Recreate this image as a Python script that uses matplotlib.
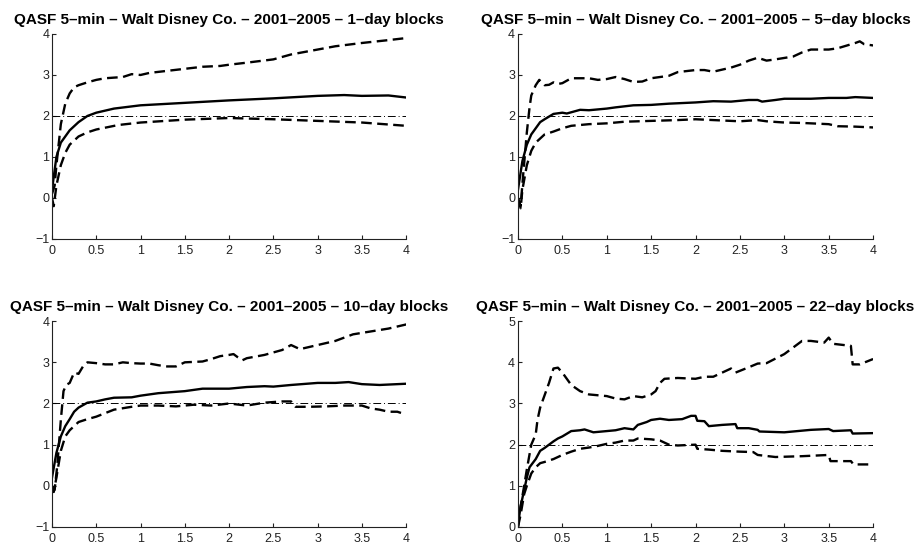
"""
QASF 5-min variance-ratio plots for Walt Disney Co., 2001-2005
"""
import matplotlib
matplotlib.use("Agg")
import matplotlib.pyplot as plt

plt.rcParams['font.family'] = ['Liberation Sans', 'DejaVu Sans']

# --- 1-day blocks
x1_mid = [0, 0.05, 0.1, 0.2, 0.3, 0.4, 0.5, 0.7, 1.0, 1.5, 2.0, 2.5, 3.0, 3.3, 3.5, 3.8, 4.0]
y1_mid = [0.2, 1.0, 1.35, 1.65, 1.85, 2.0, 2.08, 2.18, 2.26, 2.32, 2.38, 2.43, 2.49, 2.51, 2.49, 2.5, 2.45]
x1_up = [0, 0.03, 0.05, 0.1, 0.15, 0.2, 0.25, 0.3, 0.4, 0.5, 0.6, 0.8, 0.9, 1.0, 1.1, 1.3,
         1.5, 1.7, 1.9, 2.0, 2.2, 2.5, 2.7, 2.9, 3.0, 3.2, 3.5, 3.8, 4.0]
y1_up = [0.1, 0.3, 0.8, 1.8, 2.3, 2.55, 2.7, 2.75, 2.82, 2.88, 2.92, 2.95, 3.02, 3.0, 3.05, 3.1,
         3.15, 3.2, 3.22, 3.25, 3.3, 3.38, 3.5, 3.58, 3.62, 3.7, 3.78, 3.85, 3.9]
x1_lo = [0, 0.02, 0.05, 0.1, 0.15, 0.2, 0.3, 0.4, 0.5, 0.75, 1.0, 1.5, 2.0, 2.5, 3.0, 3.5, 4.0]
y1_lo = [0.0, -0.2, 0.3, 0.8, 1.1, 1.3, 1.5, 1.6, 1.67, 1.78, 1.84, 1.91, 1.95, 1.92, 1.88, 1.84, 1.76]

# --- 5-day blocks
x2_mid = [0, 0.05, 0.1, 0.15, 0.2, 0.25, 0.3, 0.4, 0.5, 0.55, 0.7, 0.8, 1.0, 1.1, 1.3, 1.5,
          1.7, 2.0, 2.2, 2.4, 2.6, 2.7, 2.75, 2.9, 3.0, 3.3, 3.5, 3.7, 3.8, 4.0]
y2_mid = [0.2, 0.9, 1.3, 1.55, 1.7, 1.85, 1.92, 2.05, 2.08, 2.06, 2.15, 2.14, 2.18, 2.21, 2.26, 2.27,
          2.3, 2.33, 2.36, 2.35, 2.39, 2.39, 2.35, 2.39, 2.42, 2.42, 2.44, 2.44, 2.46, 2.44]
x2_up = [0, 0.03, 0.06, 0.1, 0.13, 0.15, 0.2, 0.24, 0.3, 0.35, 0.4, 0.45, 0.5, 0.6, 0.7, 0.8,
         0.9, 1.0, 1.1, 1.2, 1.3, 1.4, 1.5, 1.7, 1.8, 2.0, 2.1, 2.2, 2.4, 2.5, 2.6, 2.7, 2.8,
         2.9, 3.1, 3.2, 3.3, 3.5, 3.6, 3.8, 3.85, 3.9, 4.0]
y2_up = [0.0, -0.2, 0.6, 1.6, 2.2, 2.5, 2.75, 2.88, 2.75, 2.76, 2.82, 2.78, 2.8, 2.92, 2.92, 2.92,
         2.88, 2.9, 2.95, 2.9, 2.83, 2.84, 2.92, 2.98, 3.07, 3.12, 3.12, 3.08, 3.18, 3.25, 3.35, 3.42, 3.35,
         3.38, 3.45, 3.55, 3.62, 3.62, 3.65, 3.78, 3.82, 3.75, 3.72]
x2_lo = [0, 0.03, 0.05, 0.1, 0.15, 0.2, 0.3, 0.4, 0.5, 0.6, 0.8, 1.0, 1.2, 1.5, 1.8, 2.0,
         2.2, 2.4, 2.5, 2.7, 2.8, 3.0, 3.2, 3.5, 3.6, 3.8, 4.0]
y2_lo = [0.0, -0.25, 0.2, 0.8, 1.15, 1.35, 1.55, 1.62, 1.7, 1.76, 1.8, 1.82, 1.86, 1.88, 1.9, 1.92,
         1.9, 1.88, 1.87, 1.9, 1.87, 1.84, 1.83, 1.8, 1.75, 1.74, 1.72]

# --- 10-day blocks
x3_mid = [0, 0.05, 0.1, 0.15, 0.2, 0.25, 0.3, 0.4, 0.5, 0.6, 0.7, 0.9, 1.0, 1.2, 1.5, 1.7,
          2.0, 2.2, 2.4, 2.5, 2.7, 3.0, 3.2, 3.35, 3.5, 3.7, 3.9, 4.0]
y3_mid = [0.2, 0.8, 1.2, 1.45, 1.62, 1.8, 1.9, 2.02, 2.05, 2.1, 2.14, 2.15, 2.19, 2.25, 2.3, 2.36,
          2.36, 2.4, 2.42, 2.41, 2.45, 2.5, 2.5, 2.52, 2.47, 2.45, 2.47, 2.48]
x3_up = [0, 0.03, 0.06, 0.1, 0.13, 0.16, 0.2, 0.25, 0.3, 0.35, 0.4, 0.5, 0.6, 0.7, 0.8, 0.9,
         1.0, 1.1, 1.2, 1.3, 1.4, 1.5, 1.7, 1.8, 1.9, 2.0, 2.05, 2.1, 2.15, 2.2, 2.4, 2.6, 2.7,
         2.8, 3.0, 3.2, 3.4, 3.6, 3.8, 4.0]
y3_up = [0.0, -0.1, 0.5, 1.6, 2.3, 2.45, 2.5, 2.75, 2.72, 2.9, 3.0, 2.98, 2.95, 2.95, 3.0, 2.98,
         2.97, 2.97, 2.93, 2.9, 2.9, 3.0, 3.02, 3.08, 3.15, 3.18, 3.2, 3.12, 3.05, 3.1, 3.18, 3.3, 3.42,
         3.32, 3.42, 3.52, 3.68, 3.75, 3.82, 3.92]
x3_lo = [0, 0.02, 0.05, 0.1, 0.15, 0.2, 0.3, 0.4, 0.5, 0.7, 0.9, 1.0, 1.2, 1.4, 1.6, 1.8,
         2.0, 2.2, 2.4, 2.6, 2.7, 2.75, 2.9, 3.1, 3.3, 3.5, 3.6, 3.7, 3.8, 3.9, 4.0]
y3_lo = [0.0, -0.15, 0.2, 0.85, 1.2, 1.35, 1.55, 1.62, 1.68, 1.85, 1.92, 1.95, 1.95, 1.93, 1.97, 1.95,
         2.0, 1.95, 2.02, 2.05, 2.05, 1.92, 1.92, 1.93, 1.95, 1.95, 1.88, 1.85, 1.8, 1.8, 1.73]

# --- 22-day blocks
x4_mid = [0, 0.03, 0.06, 0.1, 0.13, 0.2, 0.25, 0.3, 0.35, 0.4, 0.45, 0.5, 0.6, 0.7, 0.75, 0.85,
          1.0, 1.1, 1.2, 1.3, 1.35, 1.45, 1.5, 1.6, 1.7, 1.85, 1.95, 2.0, 2.02, 2.1, 2.15, 2.3,
          2.45, 2.47, 2.6, 2.7, 2.72, 3.0, 3.1, 3.3, 3.5, 3.55, 3.75, 3.77, 4.0]
y4_mid = [0.05, 0.5, 0.8, 1.2, 1.45, 1.65, 1.85, 1.92, 2.0, 2.08, 2.15, 2.2, 2.33, 2.35, 2.37, 2.3,
          2.33, 2.35, 2.4, 2.37, 2.48, 2.55, 2.6, 2.63, 2.6, 2.62, 2.7, 2.7, 2.58, 2.57, 2.45, 2.48,
          2.5, 2.4, 2.4, 2.36, 2.32, 2.3, 2.32, 2.36, 2.38, 2.33, 2.35, 2.27, 2.28]
x4_up = [0, 0.03, 0.07, 0.1, 0.15, 0.2, 0.22, 0.25, 0.3, 0.35, 0.4, 0.45, 0.5, 0.6, 0.7, 0.8,
         0.9, 1.0, 1.1, 1.2, 1.3, 1.4, 1.5, 1.55, 1.6, 1.65, 1.8, 2.0, 2.1, 2.2, 2.3, 2.4, 2.45,
         2.6, 2.7, 2.8, 3.0, 3.2, 3.3, 3.45, 3.5, 3.55, 3.75, 3.77, 3.85, 4.0]
y4_up = [0.0, 0.5, 1.0, 1.4, 2.0, 2.25, 2.6, 2.9, 3.2, 3.5, 3.85, 3.87, 3.75, 3.45, 3.3, 3.22,
         3.2, 3.18, 3.12, 3.1, 3.18, 3.15, 3.22, 3.3, 3.5, 3.6, 3.62, 3.6, 3.65, 3.65, 3.75, 3.85, 3.75,
         3.88, 3.97, 3.98, 4.2, 4.52, 4.52, 4.48, 4.6, 4.45, 4.4, 3.95, 3.95, 4.08]
x4_lo = [0, 0.03, 0.07, 0.1, 0.15, 0.2, 0.25, 0.3, 0.4, 0.5, 0.6, 0.7, 0.8, 0.9, 1.0, 1.1,
         1.2, 1.3, 1.35, 1.5, 1.6, 1.7, 1.8, 2.0, 2.02, 2.15, 2.3, 2.5, 2.65, 2.7, 2.9, 3.2,
         3.5, 3.52, 3.75, 3.78, 4.0]
y4_lo = [0.0, 0.3, 0.8, 1.0, 1.3, 1.45, 1.55, 1.58, 1.65, 1.75, 1.83, 1.9, 1.93, 1.97, 2.02, 2.05,
         2.1, 2.1, 2.15, 2.13, 2.1, 2.0, 1.98, 2.0, 1.9, 1.88, 1.85, 1.83, 1.82, 1.75, 1.7, 1.72,
         1.75, 1.6, 1.6, 1.52, 1.52]

block_labels = ['1', '5', '10', '22']
ylims = [(-1, 4), (-1, 4), (-1, 4), (0, 5)]
x_ticks = [0, 0.5, 1, 1.5, 2, 2.5, 3, 3.5, 4]
x_ticklabels = ['0', '0.5', '1', '1.5', '2', '2.5', '3', '3.5', '4']

panels = [
    (x1_mid, y1_mid, x1_up, y1_up, x1_lo, y1_lo),
    (x2_mid, y2_mid, x2_up, y2_up, x2_lo, y2_lo),
    (x3_mid, y3_mid, x3_up, y3_up, x3_lo, y3_lo),
    (x4_mid, y4_mid, x4_up, y4_up, x4_lo, y4_lo),
]

# axes rectangles in figure fractions (left, bottom, width, height)
rects = [
    (0.0565, 0.5623, 0.385, 0.3755),
    (0.563, 0.5623, 0.386, 0.3755),
    (0.0565, 0.0348, 0.385, 0.377),
    (0.563, 0.0348, 0.386, 0.377),
]

fig = plt.figure(figsize=(9.2, 5.46), dpi=100)

for i, (xm, ym, xu, yu, xl, yl) in enumerate(panels):
    ax = fig.add_axes(rects[i])
    ax.plot(xm, ym, color='k', linewidth=1.7, solid_joinstyle='round')
    ax.plot(xu, yu, color='k', linewidth=1.7, linestyle=(0, (4.5, 2.3)))
    ax.plot(xl, yl, color='k', linewidth=1.7, linestyle=(0, (4.5, 2.3)))
    ax.axhline(2, color='k', linewidth=0.7, linestyle='-.', dashes=(8, 3, 1, 3))
    ax.set_xlim(0, 4)
    ax.set_ylim(*ylims[i])
    ax.set_xticks(x_ticks)
    ax.set_xticklabels(x_ticklabels)
    lo, hi = ylims[i]
    ax.set_yticks(range(lo, hi + 1))
    ax.spines['top'].set_visible(False)
    ax.spines['right'].set_visible(False)
    for s in ('left', 'bottom'):
        ax.spines[s].set_linewidth(0.8)
        ax.spines[s].set_color('#222222')
    ax.tick_params(direction='in', length=3, width=0.8, labelsize=9,
                   colors='#222222')
    ax.tick_params(axis='x', pad=4)
    ax.tick_params(axis='y', pad=2)
    ax.set_title('QASF 5\u2013min \u2013 Walt Disney Co. \u2013 2001\u20132005 \u2013 '
                 + block_labels[i] + '\u2013day blocks',
                 fontsize=11, fontweight='bold', pad=7)

fig.savefig('out.png', dpi=100)
